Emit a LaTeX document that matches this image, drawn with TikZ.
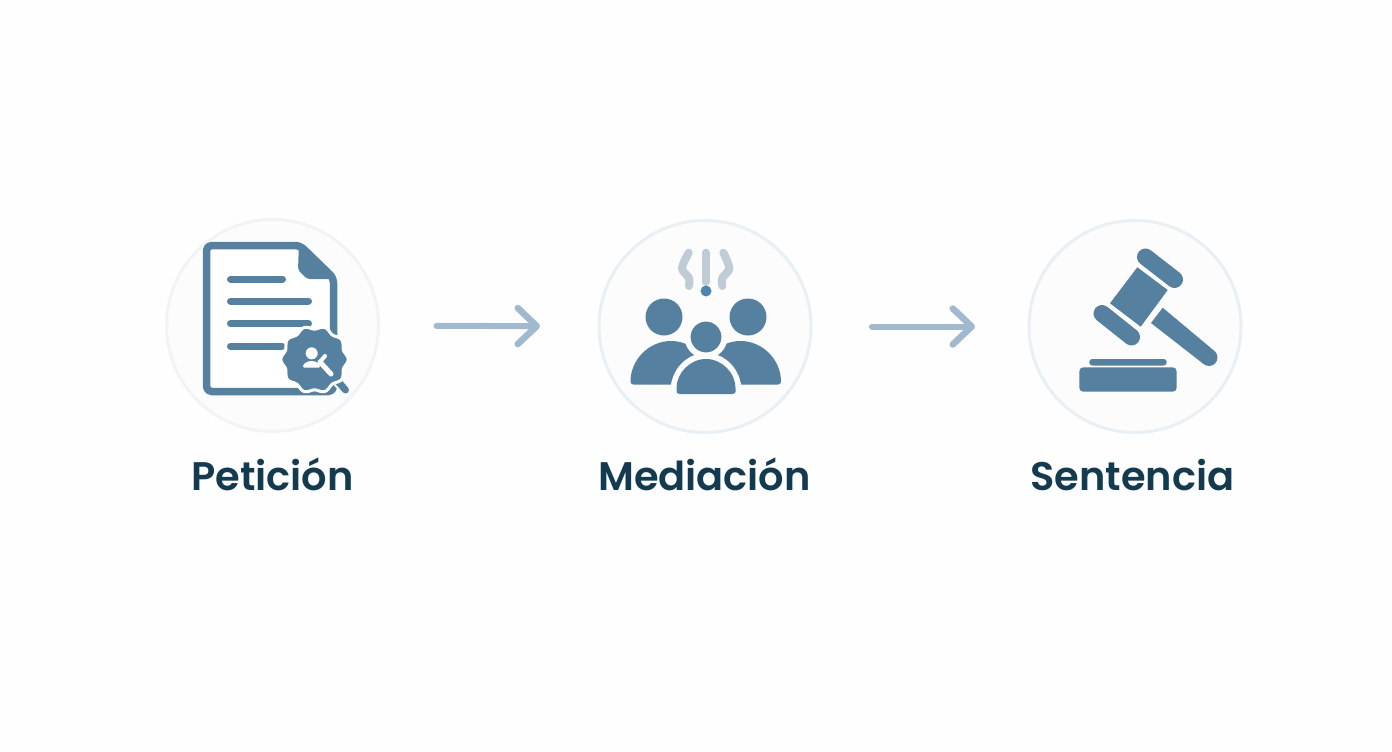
\documentclass[tikz,border=0pt]{standalone}
\usepackage{fontspec}
\setmainfont[BoldFont={Poppins SemiBold}]{Poppins}
\usetikzlibrary{arrows.meta,positioning}
\definecolor{icon}{HTML}{55809F}
\definecolor{ringfill}{HTML}{FCFCFD}
\definecolor{ringline}{HTML}{E9F0F5}
\definecolor{flow}{HTML}{A0B9CF}
\definecolor{wave}{HTML}{BFCCD6}
\definecolor{spot}{HTML}{4A86AD}
\definecolor{title}{HTML}{133A4F}
\tikzset{
  ring/.style={circle,draw=ringline,fill=ringfill,line width=3pt,minimum size=212pt,inner sep=0pt,outer sep=0pt},
  steptitle/.style={font=\bfseries\fontsize{39.9}{41}\selectfont,text=title,inner sep=0pt,anchor=base},
  flowarrow/.style={draw=flow,line width=6pt,-{Straight Barb[length=19pt,width=36pt,line width=6.5pt,line cap=round,round]}},
  waveline/.style={draw=wave,line width=8pt},
  halo/.style={draw=ringfill,line width=6pt,fill=icon},
}
\begin{document}
\begin{tikzpicture}[line cap=round,line join=round,x=1pt,y=-1pt]
\path[use as bounding box,fill=white!99!gray] (0,0) rectangle (1392,752);
\node[ring,draw=ringline!70!white] (pet) at (272.5,325.5) {};
\node[ring] (med) at (705,326.5) {};
\node[ring] (sen) at (1135,326.5) {};
\node[steptitle] (petname) at (272.5,490) {Petición};
\node[steptitle] (medname) at (704.5,490) {Mediación};
\node[steptitle] (senname) at (1132.5,490) {Sentencia};
\draw[flowarrow,shorten <=58pt,shorten >=59pt] (pet) -- (med);
\draw[flowarrow,shorten <=61pt,shorten >=54pt] (med) -- (sen);
% document
\draw[icon,line width=7.5pt,fill=white,rounded corners=5pt] (300,245.5) -- (206.5,245.5) -- (206.5,391.5) -- (333.5,391.5) -- (333.5,278) -- cycle;
\fill[icon,rounded corners=3pt] (299,243) -- (337,279) -- (307,279) -- (298,270) -- cycle;
\foreach \y/\xend in {279/282.5,301/308.5,323.5/308.5,346/282}
{
\draw[icon,line width=7pt] (230.5,\y) -- (\xend,\y);
}
\draw[white,line width=11pt] (335,378) -- (340,384);
\draw[icon,line width=7pt] (335,378) -- (345.5,390);
\draw[draw=white,line width=3pt,fill=icon] plot[domain=0:360,samples=181] ({314.5+(32+1.6*cos(10*\x))*cos(\x)},{359.5+(32+1.6*cos(10*\x))*sin(\x)}) -- cycle;
\fill[white] (311.7,353.3) circle (6);
\fill[white,rounded corners=1pt] (303,367.5) arc (180:360:8.5 and 6.5) -- cycle;
\draw[white,line width=5pt] (320,362) -- (331,374);
\draw[white,line width=4pt] (320,362) -- (325,356);
% people
\draw[waveline] plot[smooth] coordinates {(688.7,252.7) (682,268.3) (689,278) (689,286)};
\draw[waveline] (705.7,252.7) -- (705.7,282);
\draw[waveline] plot[smooth] coordinates {(723.3,252.7) (729.3,268.3) (722.3,278) (722.3,286)};
\fill[spot] (706,291) circle (5.5);
\fill[icon] (664,317) circle (18.5);
\fill[icon] (748,317) circle (18.5);
\draw[icon,fill=icon,line width=2pt,rounded corners=2pt] (631.5,383.5) arc (180:360:39.5 and 41.5) -- cycle;
\draw[icon,fill=icon,line width=2pt,rounded corners=2pt] (701,383.5) arc (180:360:39.5 and 41.5) -- cycle;
\draw[halo] (706,337) circle (18.5);
\draw[ringfill,fill=ringfill,line width=6pt] (673.5,394) -- (673.5,391) arc (180:360:32.5 and 35) -- (738.5,394) -- cycle;
\fill[ringfill] (668,394) rectangle (744,402);
\fill[icon,rounded corners=3pt] (676.5,394) -- (676.5,391) arc (180:360:29.5 and 32) -- (735.5,394) -- cycle;
% gavel
\fill[icon] (1137.3,267.3) -- (1167.7,290) -- (1140.7,326.7) -- (1110,303.3) -- cycle;
\draw[icon,line width=17pt] (1145.5,257) -- (1174.5,279.5);
\draw[icon,line width=17pt] (1102,313.5) -- (1131.5,337);
\fill[icon] (1151,323) -- (1162.7,307.7) -- (1214.3,350.9) -- (1203.7,364.1) -- cycle;
\fill[icon] (1209,357.5) circle (8.5);
\fill[icon,rounded corners=3pt] (1089.3,359) rectangle (1166.7,365.5);
\fill[icon,rounded corners=4pt] (1079.3,367.3) rectangle (1176.7,391.7);
\end{tikzpicture}
\end{document}
